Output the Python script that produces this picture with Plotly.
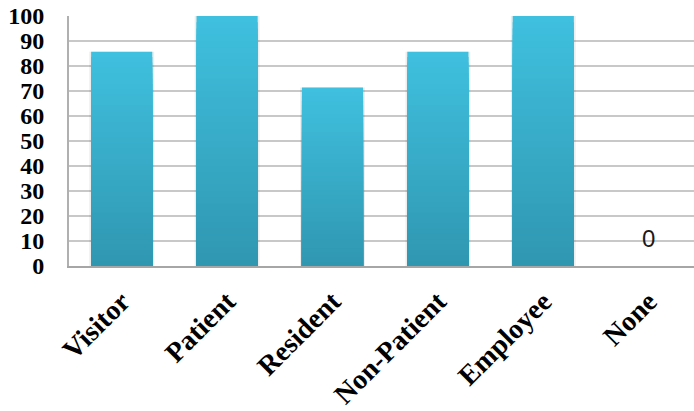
import numpy as np
import plotly.graph_objects as go

# Chart data
categories = ["Visitor", "Patient", "Resident", "Non-Patient", "Employee", "None"]
values = [85.7, 100, 71.4, 85.7, 100, 0]
y_ticks = list(range(0, 101, 10))

# Vertical gradient per bar: light cyan at the top, deeper teal at the base
top_rgb = np.array([63, 192, 222])
bottom_rgb = np.array([48, 151, 177])
n_steps = 40
bar_width = 0.58

vals = np.array(values, dtype=float)
fig = go.Figure()

# soft shadow behind each bar
fig.add_bar(
    x=categories, y=vals, width=bar_width + 0.035,
    marker=dict(color="rgba(0,0,0,0.07)", line_width=0),
    hoverinfo="skip", showlegend=False,
)

for i in range(n_steps):
    frac = (n_steps - i) / n_steps
    t = i / (n_steps - 1)
    rgb = (top_rgb * (1 - t) + bottom_rgb * t).round().astype(int)
    fig.add_bar(
        x=categories, y=vals * frac, width=bar_width,
        marker=dict(color=f"rgb({rgb[0]},{rgb[1]},{rgb[2]})", line_width=0),
        hoverinfo="skip" if i else None, showlegend=False,
    )

# value label on the empty category
fig.add_annotation(
    x=categories[-1], y=values[-1], text=f"{values[-1]:g}",
    showarrow=False, yshift=28,
    font=dict(family="Liberation Sans, Arial", size=24, color="#1a1a1a"),
)

fig.update_layout(
    width=694, height=411,
    margin=dict(l=69, r=0, t=16, b=145),
    paper_bgcolor="white", plot_bgcolor="white",
    barmode="overlay",
    showlegend=False,
)

fig.update_xaxes(
    type="category",
    range=[-0.5, 5.43],
    tickangle=-45,
    tickfont=dict(family="Liberation Serif, Times New Roman", size=28, color="black", weight="bold"),
    ticklabelstandoff=6,
    automargin=False,
    showline=True, linecolor="#A6A6A6", linewidth=2,
    showgrid=False, ticks="",
)

fig.update_yaxes(
    range=[0, 100],
    tickvals=y_ticks,
    tickfont=dict(family="Liberation Serif, Times New Roman", size=24, color="black", weight="bold"),
    ticklabelstandoff=18,
    automargin=False,
    showline=True, linecolor="#B0B0B0", linewidth=2,
    showgrid=True, gridcolor="#C8C8C8", gridwidth=1.5,
    zeroline=False, ticks="",
)

fig.write_html("out.html")
